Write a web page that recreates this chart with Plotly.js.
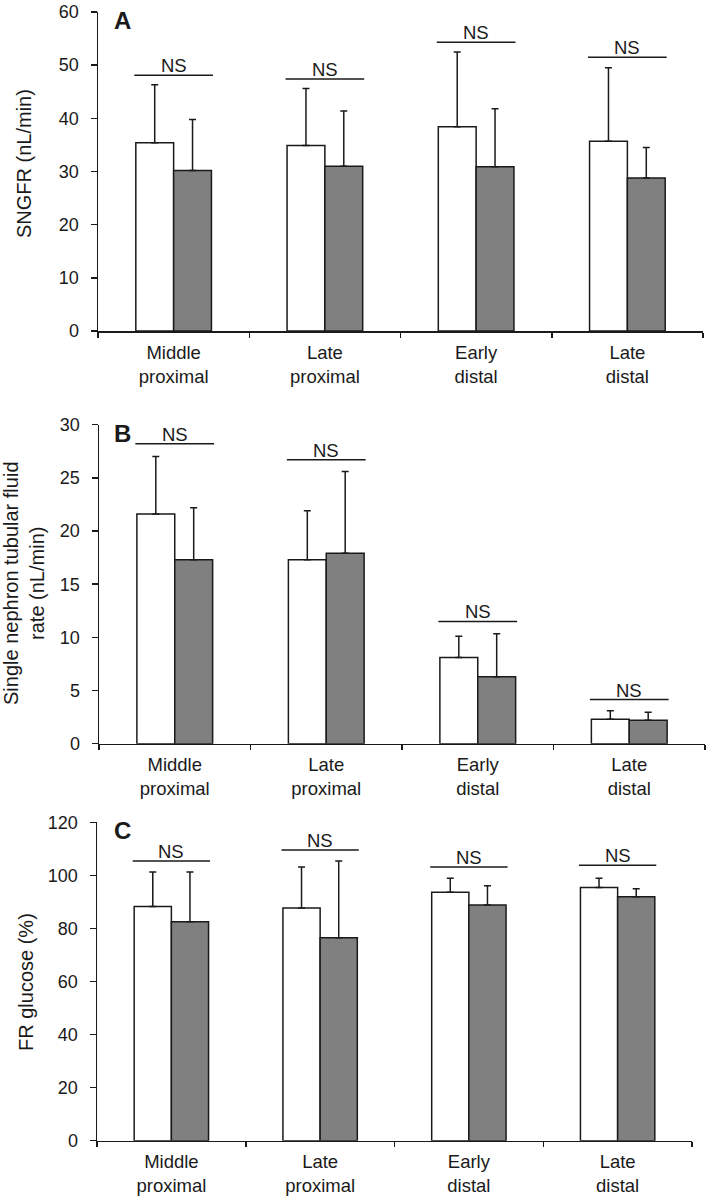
<!DOCTYPE html>
<html>
<head>
<meta charset="utf-8">
<script src="https://cdn.plot.ly/plotly-3.0.1.min.js"></script>
<style>
  html, body { margin: 0; padding: 0; background: #fff; }
  #chart { width: 709px; height: 1197px; }
</style>
</head>
<body>
<div id="chart"></div>
<script>
// categories (shared by the three panels)
const categories = ['Middle<br>proximal', 'Late<br>proximal', 'Early<br>distal', 'Late<br>distal'];

// A - SNGFR (nL/min)
const sngfrWhite = [35.4, 34.9, 38.4, 35.7];
const sngfrWhiteErr = [10.9, 10.7, 14.1, 13.8];
const sngfrGrey = [30.2, 31.0, 30.9, 28.8];
const sngfrGreyErr = [9.6, 10.4, 10.9, 5.7];
const nsA = [48.1, 47.4, 54.3, 51.5];

// B - single nephron tubular fluid rate (nL/min)
const tfrWhite = [21.6, 17.3, 8.1, 2.3];
const tfrWhiteErr = [5.4, 4.6, 2.0, 0.8];
const tfrGrey = [17.3, 17.9, 6.3, 2.2];
const tfrGreyErr = [4.9, 7.7, 4.05, 0.75];
const nsB = [28.2, 26.7, 11.5, 4.15];

// C - FR glucose (%)
const glucoseWhite = [88.3, 87.7, 93.6, 95.4];
const glucoseWhiteErr = [13.0, 15.5, 5.3, 3.5];
const glucoseGrey = [82.5, 76.5, 88.8, 91.9];
const glucoseGreyErr = [18.8, 28.9, 7.3, 3.1];
const nsC = [105.4, 109.6, 103.2, 103.8];

const yTitles = ['SNGFR (nL/min)', 'Single nephron tubular fluid<br>rate (nL/min)', 'FR glucose (%)'];
const panelLetters = ['A', 'B', 'C'];

const ink = '#1a1a1a';
const W = 709, H = 1197;

// pixel frames of each plot area: [left, right, top, bottom]
const frames = [
    [98, 703, 12, 331],
    [99, 705, 424.7, 743.7],
    [97, 692, 822.3, 1140.7]
];
// where the y titles sit (pixel centre x, y)
const titlePos = [[24, 164], [24, 583], [26, 982]];
const yRanges = [[0, 60], [0, 30], [0, 120]];
const yDticks = [10, 5, 20];

function barTrace(vals, errs, fill, n) {
    return {
        type: 'bar',
        x: categories,
        y: vals,
        xaxis: n === 1 ? 'x' : 'x' + n,
        yaxis: n === 1 ? 'y' : 'y' + n,
        marker: { color: fill, line: { color: ink, width: 1.5 } },
        error_y: {
            type: 'data',
            symmetric: false,
            array: errs,
            arrayminus: errs.map(() => 0),
            color: ink,
            thickness: 1.5,
            width: 3.5
        },
        hoverinfo: 'skip'
    };
}

const data = [
    barTrace(sngfrWhite, sngfrWhiteErr, '#ffffff', 1),
    barTrace(sngfrGrey, sngfrGreyErr, '#808080', 1),
    barTrace(tfrWhite, tfrWhiteErr, '#ffffff', 2),
    barTrace(tfrGrey, tfrGreyErr, '#808080', 2),
    barTrace(glucoseWhite, glucoseWhiteErr, '#ffffff', 3),
    barTrace(glucoseGrey, glucoseGreyErr, '#808080', 3)
];

const layout = {
    width: W,
    height: H,
    margin: { l: 0, r: 0, t: 0, b: 0 },
    paper_bgcolor: '#ffffff',
    plot_bgcolor: '#ffffff',
    showlegend: false,
    barmode: 'group',
    bargap: 0.5,
    bargroupgap: 0,
    font: { family: 'Liberation Sans, Arial, sans-serif', size: 18, color: ink },
    shapes: [],
    annotations: []
};

const nsLevels = [nsA, nsB, nsC];

frames.forEach(function(f, k) {
    const n = k + 1;
    const xName = n === 1 ? 'xaxis' : 'xaxis' + n;
    const yName = n === 1 ? 'yaxis' : 'yaxis' + n;
    const xRef = n === 1 ? 'x' : 'x' + n;
    const yRef = n === 1 ? 'y' : 'y' + n;

    layout[xName] = {
        domain: [f[0] / W, f[1] / W],
        anchor: yRef,
        type: 'category',
        range: [-0.5, 3.5],
        showline: true,
        linecolor: ink,
        linewidth: 1.5,
        ticks: 'outside',
        tickson: 'boundaries',
        ticklen: 5,
        tickwidth: 1.5,
        tickcolor: ink,
        ticklabelstandoff: 4,
        showgrid: false,
        zeroline: false,
        tickfont: { size: 18.5 },
        fixedrange: true
    };
    layout[yName] = {
        domain: [1 - f[3] / H, 1 - f[2] / H],
        anchor: xRef,
        range: yRanges[k],
        dtick: yDticks[k],
        showline: true,
        linecolor: ink,
        linewidth: 1.5,
        ticks: 'outside',
        ticklen: 6,
        tickwidth: 1.5,
        tickcolor: ink,
        ticklabelstandoff: 8,
        showgrid: false,
        zeroline: false,
        tickfont: { size: 18 },
        fixedrange: true
    };

    // y title, placed by hand
    layout.annotations.push({
        xref: 'paper', yref: 'paper',
        x: titlePos[k][0] / W, y: 1 - titlePos[k][1] / H,
        xanchor: 'center', yanchor: 'middle',
        textangle: -90,
        text: yTitles[k],
        showarrow: false,
        font: { size: 20, color: ink }
    });

    // panel letter
    layout.annotations.push({
        xref: 'paper', yref: 'paper',
        x: 112 / W, y: 1 - (f[2] - 7) / H,
        xanchor: 'left', yanchor: 'top',
        text: '<b>' + panelLetters[k] + '</b>',
        showarrow: false,
        font: { size: 24, color: ink }
    });

    // NS brackets
    nsLevels[k].forEach(function(v, i) {
        layout.shapes.push({
            type: 'line', xref: xRef, yref: yRef,
            x0: i - 0.26, x1: i + 0.26, y0: v, y1: v,
            line: { color: ink, width: 1.5 }
        });
        layout.annotations.push({
            xref: xRef, yref: yRef,
            x: i, y: v,
            xanchor: 'center', yanchor: 'bottom',
            yshift: -3,
            text: 'NS',
            showarrow: false,
            font: { size: 18.5, color: ink }
        });
    });
});

Plotly.newPlot('chart', data, layout, { displayModeBar: false, staticPlot: true });
</script>
</body>
</html>
